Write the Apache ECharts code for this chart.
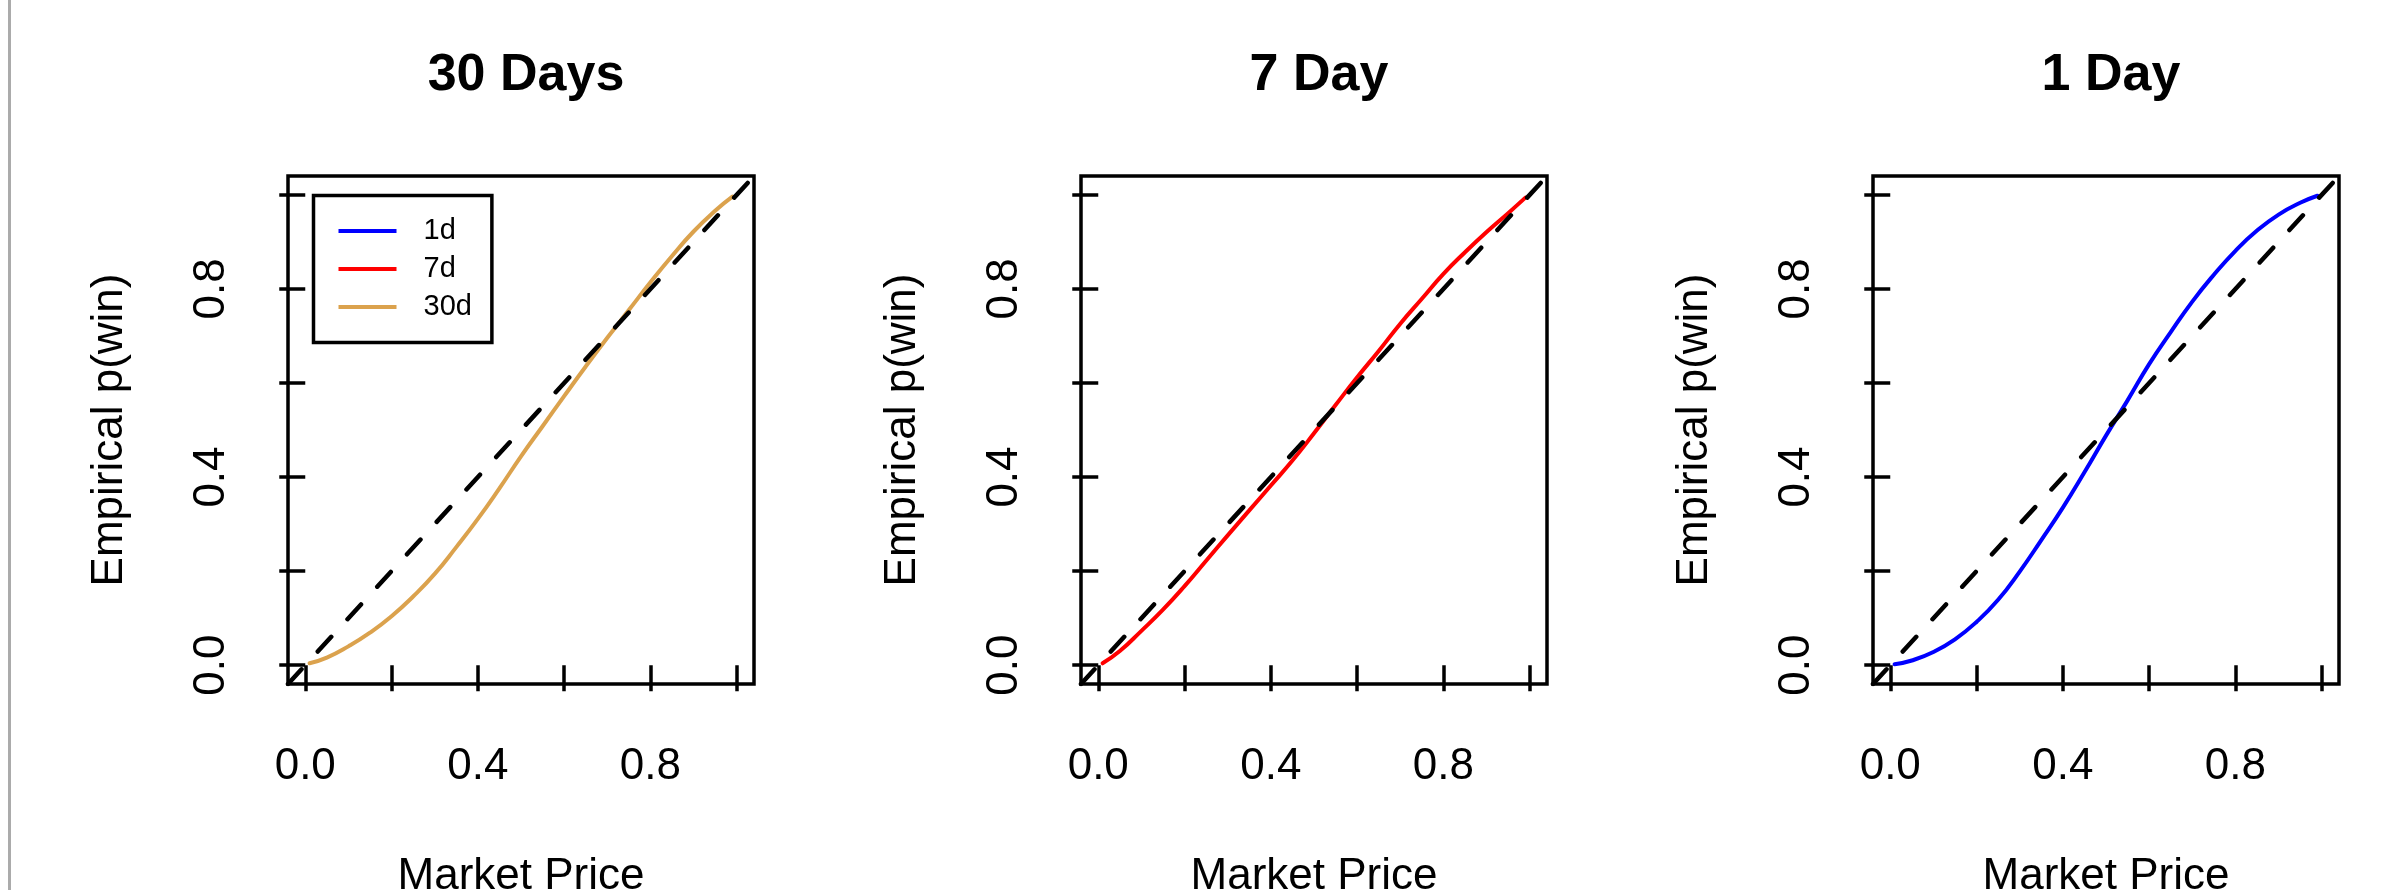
<!DOCTYPE html>
<html><head><meta charset="utf-8">
<script src="https://cdn.jsdelivr.net/npm/echarts@6/dist/echarts.min.js"></script>
<style>html,body{margin:0;padding:0;background:#fff}#c{width:2403px;height:890px}</style>
</head><body><div id="c"></div>
<script>
// ---- data ----
const panelTitles = ['30 Days', '7 Day', '1 Day'];
const seriesNames = ['30d', '7d', '1d'];
const legendOrder = ['1d', '7d', '30d'];
const marketPrice = [0.01, 0.05, 0.10, 0.15, 0.20, 0.25, 0.30, 0.35, 0.40, 0.45, 0.50,
                     0.55, 0.60, 0.65, 0.70, 0.75, 0.80, 0.85, 0.90, 0.95, 0.99];
const win30d = [0.004, 0.016, 0.040, 0.069, 0.104, 0.146, 0.194, 0.251, 0.311, 0.376, 0.444,
                0.508, 0.572, 0.635, 0.696, 0.755, 0.814, 0.870, 0.922, 0.966, 0.996];
const win7d  = [0.004, 0.030, 0.073, 0.118, 0.168, 0.222, 0.276, 0.329, 0.382, 0.435, 0.493,
                0.553, 0.612, 0.668, 0.726, 0.779, 0.832, 0.878, 0.921, 0.961, 0.994];
const win1d  = [0.002, 0.010, 0.028, 0.055, 0.092, 0.139, 0.199, 0.266, 0.335, 0.410, 0.488,
                0.563, 0.640, 0.708, 0.773, 0.830, 0.881, 0.924, 0.958, 0.983, 0.998];
const refLine = [-0.04, 1.04];            // y = x reference, across the whole box
const tickValues = [0, 0.2, 0.4, 0.6, 0.8, 1.0];
const tickLabels = [0, 0.4, 0.8];
const xTitle = 'Market Price';
const yTitle = 'Empirical p(win)';

// ---- styles / layout ----
const FONT = '"Liberation Sans", Arial, Helvetica, sans-serif';
const colors = {'30d': '#DBA24D', '7d': '#FF0000', '1d': '#0000FF'};
const gridLefts = [288, 1081, 1873];
const GW = 466, GT = 176, GH = 508;
const panelData = [win30d, win7d, win1d];

const grids = [], xAxes = [], yAxes = [], series = [], titles = [];
gridLefts.forEach((l, i) => {
  grids.push({left: l, top: GT, width: GW, height: GH, show: true, outerBoundsMode: 'none',
    borderColor: '#000', borderWidth: 3.5, backgroundColor: 'transparent', containLabel: false});
  const axisCommon = {
    type: 'value', gridIndex: i, min: refLine[0], max: refLine[1],
    axisLine: {show: false}, splitLine: {show: false},
    axisTick: {show: true, inside: false, length: 26, lineStyle: {color: '#000', width: 3.5}, customValues: tickValues},
    axisLabel: {customValues: tickLabels, formatter: v => v.toFixed(1), color: '#000', fontSize: 44, fontFamily: FONT},
    nameLocation: 'middle', nameTextStyle: {color: '#000', fontSize: 44, fontFamily: FONT}
  };
  xAxes.push(Object.assign({}, axisCommon, {position: 'bottom', name: xTitle, nameGap: 171,
    axisLabel: Object.assign({}, axisCommon.axisLabel, {margin: 61})}));
  yAxes.push(Object.assign({}, axisCommon, {position: 'left', name: yTitle, nameGap: 156, nameRotate: 90,
    axisLabel: Object.assign({}, axisCommon.axisLabel, {rotate: 90, margin: 54})}));
  titles.push({text: panelTitles[i], left: l + GW / 2, top: 45, textAlign: 'center',
    textStyle: {fontSize: 52, fontWeight: 'bold', color: '#000', fontFamily: FONT}});
  series.push({type: 'line', xAxisIndex: i, yAxisIndex: i, silent: true, showSymbol: false,
    data: [[refLine[0], refLine[0]], [refLine[1], refLine[1]]],
    lineStyle: {color: '#000', width: 4.5, type: [20, 24], cap: 'round'}, z: 3});
  const nm = seriesNames[i];
  series.push({type: 'line', name: nm, xAxisIndex: i, yAxisIndex: i, showSymbol: false, smooth: 0.5,
    color: colors[nm], data: marketPrice.map((x, k) => [x, panelData[i][k]]),
    lineStyle: {color: colors[nm], width: 4, cap: 'round'}, z: 2});
});

const chart = echarts.init(document.getElementById('c'), null, {renderer: 'canvas'});
chart.setOption({
  animation: false,
  backgroundColor: '#fff',
  title: titles,
  grid: grids, xAxis: xAxes, yAxis: yAxes, series: series,
  legend: {data: legendOrder, orient: 'vertical', left: 313.5, top: 195.5, icon: 'rect',
    itemWidth: 58, itemHeight: 4, itemGap: 9, padding: [21, 20, 21, 25],
    borderColor: '#000', borderWidth: 3.5, backgroundColor: '#fff',
    selectedMode: false,
    textStyle: {fontSize: 29, color: '#000', fontFamily: FONT, padding: [0, 0, 0, 22]}},
  graphic: [{type: 'rect', left: 8, top: 0, shape: {width: 3, height: 890}, style: {fill: '#ababab'}, silent: true}]
});
</script></body></html>
